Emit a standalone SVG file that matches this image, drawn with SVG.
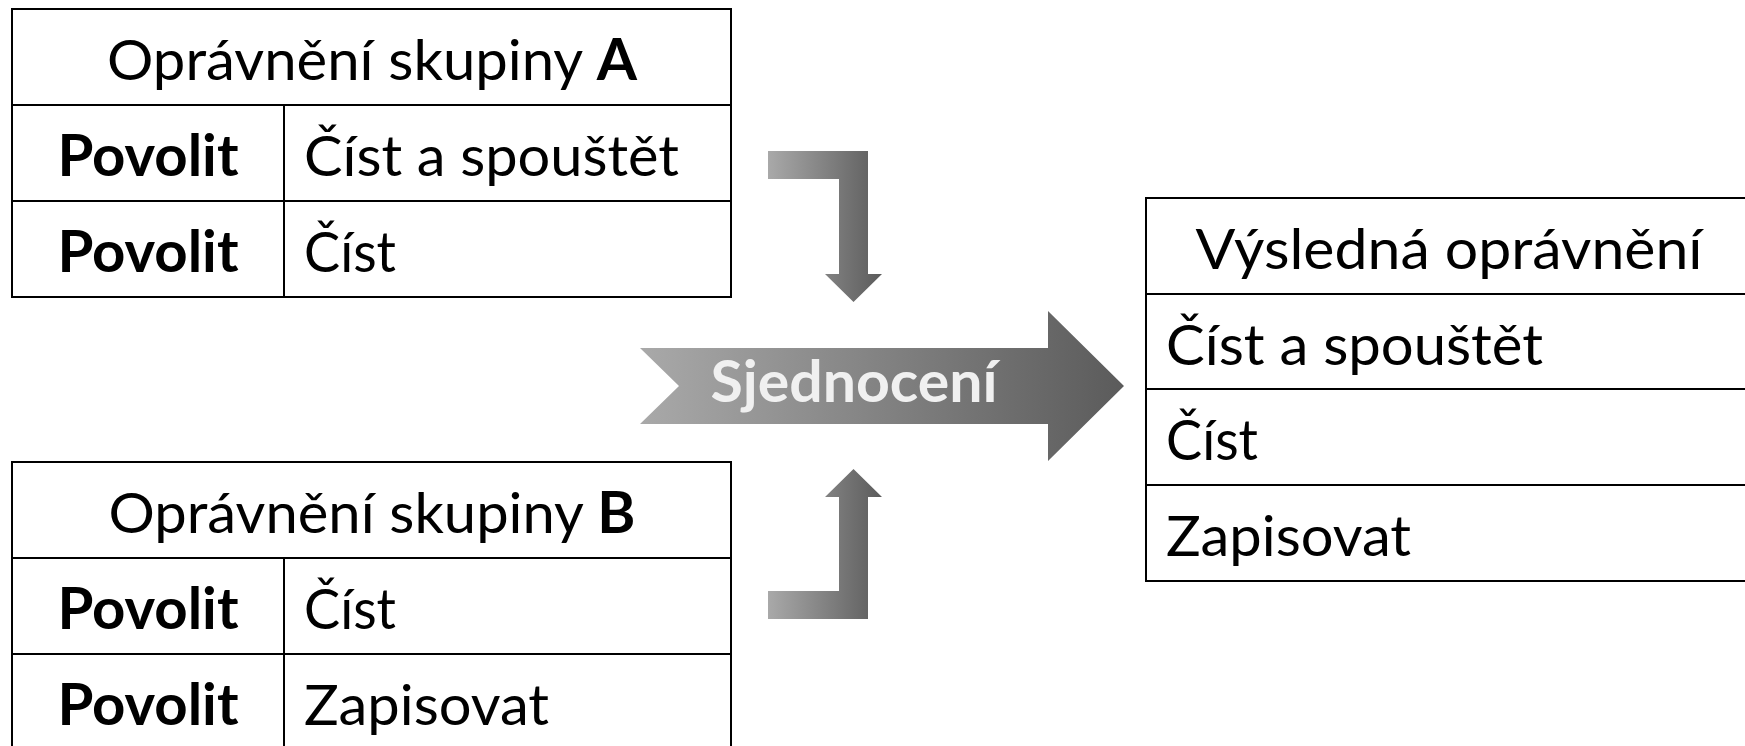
<svg xmlns="http://www.w3.org/2000/svg" width="1745" height="746" viewBox="0 0 1745 746">
  <defs>
    <linearGradient id="grayFlow" x1="0" y1="0" x2="1" y2="0">
      <stop offset="0" stop-color="#a9a9a9"/>
      <stop offset="1" stop-color="#5b5b5b"/>
    </linearGradient>
    <style>
      .cell { fill: #ffffff; stroke: #000000; stroke-width: 2; }
      .rule { stroke: #000000; stroke-width: 2; fill: none; }
      .t { font-family: Lato, "Open Sans", "Liberation Sans", sans-serif; font-size: 57px; fill: #000000; }
      .b { font-weight: bold; }
      .flow { fill: url(#grayFlow); }
      .flowLabel { font-family: Lato, "Open Sans", "Liberation Sans", sans-serif; font-size: 57px; font-weight: bold; fill: #f0f0f0; }
    </style>
  </defs>

  <rect width="1745" height="746" fill="#ffffff"/>

  <!-- group A permissions -->
  <g id="tableA">
    <rect class="cell" x="12" y="9" width="719" height="288"/>
    <line class="rule" x1="12" y1="105" x2="731" y2="105"/>
    <line class="rule" x1="12" y1="201" x2="731" y2="201"/>
    <line class="rule" x1="284" y1="105" x2="284" y2="297"/>
    <text class="t" x="372" y="80" text-anchor="middle" textLength="530" lengthAdjust="spacingAndGlyphs">Oprávnění skupiny <tspan class="b">A</tspan></text>
    <text class="t b" x="148" y="176" text-anchor="middle" textLength="181" lengthAdjust="spacingAndGlyphs">Povolit</text>
    <text class="t" x="304" y="176" textLength="375" lengthAdjust="spacingAndGlyphs">Číst a spouštět</text>
    <text class="t b" x="148" y="272" text-anchor="middle" textLength="181" lengthAdjust="spacingAndGlyphs">Povolit</text>
    <text class="t" x="304" y="272" textLength="92" lengthAdjust="spacingAndGlyphs">Číst</text>
  </g>

  <!-- group B permissions -->
  <g id="tableB">
    <rect class="cell" x="12" y="462" width="719" height="288"/>
    <line class="rule" x1="12" y1="558" x2="731" y2="558"/>
    <line class="rule" x1="12" y1="654" x2="731" y2="654"/>
    <line class="rule" x1="284" y1="558" x2="284" y2="750"/>
    <text class="t" x="372" y="533" text-anchor="middle" textLength="527" lengthAdjust="spacingAndGlyphs">Oprávnění skupiny <tspan class="b">B</tspan></text>
    <text class="t b" x="148" y="629" text-anchor="middle" textLength="181" lengthAdjust="spacingAndGlyphs">Povolit</text>
    <text class="t" x="304" y="629" textLength="92" lengthAdjust="spacingAndGlyphs">Číst</text>
    <text class="t b" x="148" y="725" text-anchor="middle" textLength="181" lengthAdjust="spacingAndGlyphs">Povolit</text>
    <text class="t" x="304" y="725" textLength="245" lengthAdjust="spacingAndGlyphs">Zapisovat</text>
  </g>

  <!-- resulting permissions -->
  <g id="tableResult">
    <rect class="cell" x="1146" y="198" width="607" height="383"/>
    <line class="rule" x1="1146" y1="294" x2="1753" y2="294"/>
    <line class="rule" x1="1146" y1="389" x2="1753" y2="389"/>
    <line class="rule" x1="1146" y1="485" x2="1753" y2="485"/>
    <text class="t" x="1449" y="269" text-anchor="middle" textLength="507" lengthAdjust="spacingAndGlyphs">Výsledná oprávnění</text>
    <text class="t" x="1166" y="365" textLength="377" lengthAdjust="spacingAndGlyphs">Číst a spouštět</text>
    <text class="t" x="1166" y="460" textLength="92" lengthAdjust="spacingAndGlyphs">Číst</text>
    <text class="t" x="1166" y="556" textLength="245" lengthAdjust="spacingAndGlyphs">Zapisovat</text>
  </g>

  <!-- union arrows -->
  <g id="connectors">
    <polygon class="flow" points="768,151 868,151 868,274 882,274 853.5,302 825,274 839,274 839,179 768,179"/>
    <polygon class="flow" points="853.5,469 882,497 868,497 868,619 768,619 768,591 839,591 839,497 825,497"/>
    <g id="union">
      <polygon class="flow" points="640,348 1048,348 1048,311 1124,386 1048,461 1048,424 640,424 679,386"/>
      <text class="flowLabel" x="854" y="402" text-anchor="middle" textLength="287" lengthAdjust="spacingAndGlyphs">Sjednocení</text>
    </g>
  </g>
</svg>
